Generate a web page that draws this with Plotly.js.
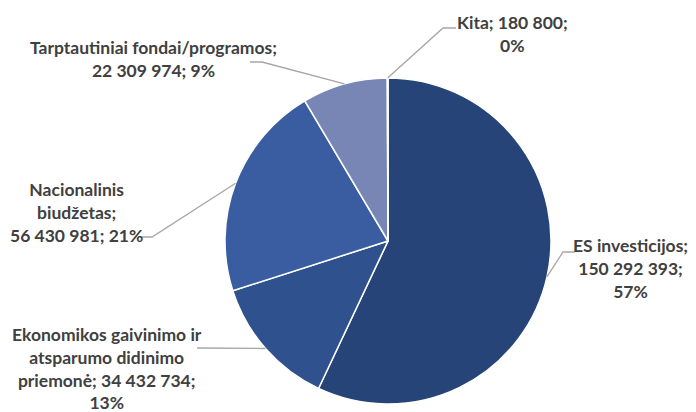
<!DOCTYPE html>
<html>
<head>
<meta charset="utf-8">
<script src="https://cdn.plot.ly/plotly-3.0.1.min.js"></script>
<style>html,body{margin:0;padding:0;background:#fff;}#chart{width:696px;height:412px;}</style>
</head>
<body>
<div id="chart"></div>
<script>
const categories = ["ES investicijos", "Ekonomikos gaivinimo ir atsparumo didinimo priemonė", "Nacionalinis biudžetas", "Tarptautiniai fondai/programos", "Kita"];
const values = [150292393, 34432734, 56430981, 22309974, 180800];
const percentLabels = ["57%", "13%", "21%", "9%", "0%"];
const valueLabels = ["150 292 393", "34 432 734", "56 430 981", "22 309 974", "180 800"];
const labelTexts = [
  "ES investicijos;<br>150 292 393;<br>57%",
  "Ekonomikos gaivinimo ir<br>atsparumo didinimo<br>priemonė; 34 432 734;<br>13%",
  "Nacionalinis<br>biudžetas;<br>56 430 981; 21%",
  "Tarptautiniai fondai/programos;<br>22 309 974; 9%",
  "Kita; 180 800;<br>0%"
];
const colors = ["#264478", "#2F528F", "#3A5DA2", "#7886B5", "#9AA6CF"];

const W = 696, H = 412;
const cx = 388, cy = 241, R = 163;
const domX = [(cx - R) / W, (cx + R) / W];
const domY = [1 - (cy + R) / H, 1 - (cy - R) / H];

// label layout: elbow point, line end, label anchor (px)
const labelLayout = [
  {elbow: [563, 252], end: [575, 252], tx: 630, ty: 268},
  {elbow: [197, 348], end: [197, 348], tx: 107, ty: 368},
  {elbow: [152, 237], end: [140, 237], tx: 76, ty: 212},
  {elbow: [262, 62], end: [250, 62], tx: 153, ty: 59},
  {elbow: [443, 28], end: [456, 28], tx: 512, ty: 34}
];

const total = values.reduce((a, b) => a + b, 0);
const shapes = [];
const annotations = [];
let cum = 0;
const px = x => x / W, py = y => 1 - y / H;
values.forEach((v, i) => {
  const mid = (cum + v / 2) / total * 2 * Math.PI;
  cum += v;
  const sx = cx + R * Math.sin(mid), sy = cy - R * Math.cos(mid);
  const L = labelLayout[i];
  shapes.push({
    type: "path", xref: "paper", yref: "paper",
    path: `M ${px(sx)} ${py(sy)} L ${px(L.elbow[0])} ${py(L.elbow[1])} L ${px(L.end[0])} ${py(L.end[1])}`,
    line: {color: "#A6A6A6", width: 1.3}
  });
  annotations.push({
    xref: "paper", yref: "paper", x: px(L.tx), y: py(L.ty),
    xanchor: "center", yanchor: "middle", showarrow: false, align: "center",
    text: labelTexts[i],
    font: {family: "Lato, 'Open Sans', sans-serif", size: 17.5, color: "#404040", weight: "bold"}
  });
});

const data = [{
  type: "pie",
  labels: categories,
  values: values,
  sort: false,
  direction: "clockwise",
  rotation: 0,
  textinfo: "none",
  hoverinfo: "label+value+percent",
  marker: {colors: colors, line: {color: "#FFFFFF", width: 1.5}},
  domain: {x: domX, y: domY},
  showlegend: false
}];

const layout = {
  width: W, height: H,
  margin: {l: 0, r: 0, t: 0, b: 0},
  paper_bgcolor: "#FFFFFF",
  showlegend: false,
  shapes: shapes,
  annotations: annotations
};

Plotly.newPlot("chart", data, layout, {displayModeBar: false, staticPlot: true});
</script>
</body>
</html>
